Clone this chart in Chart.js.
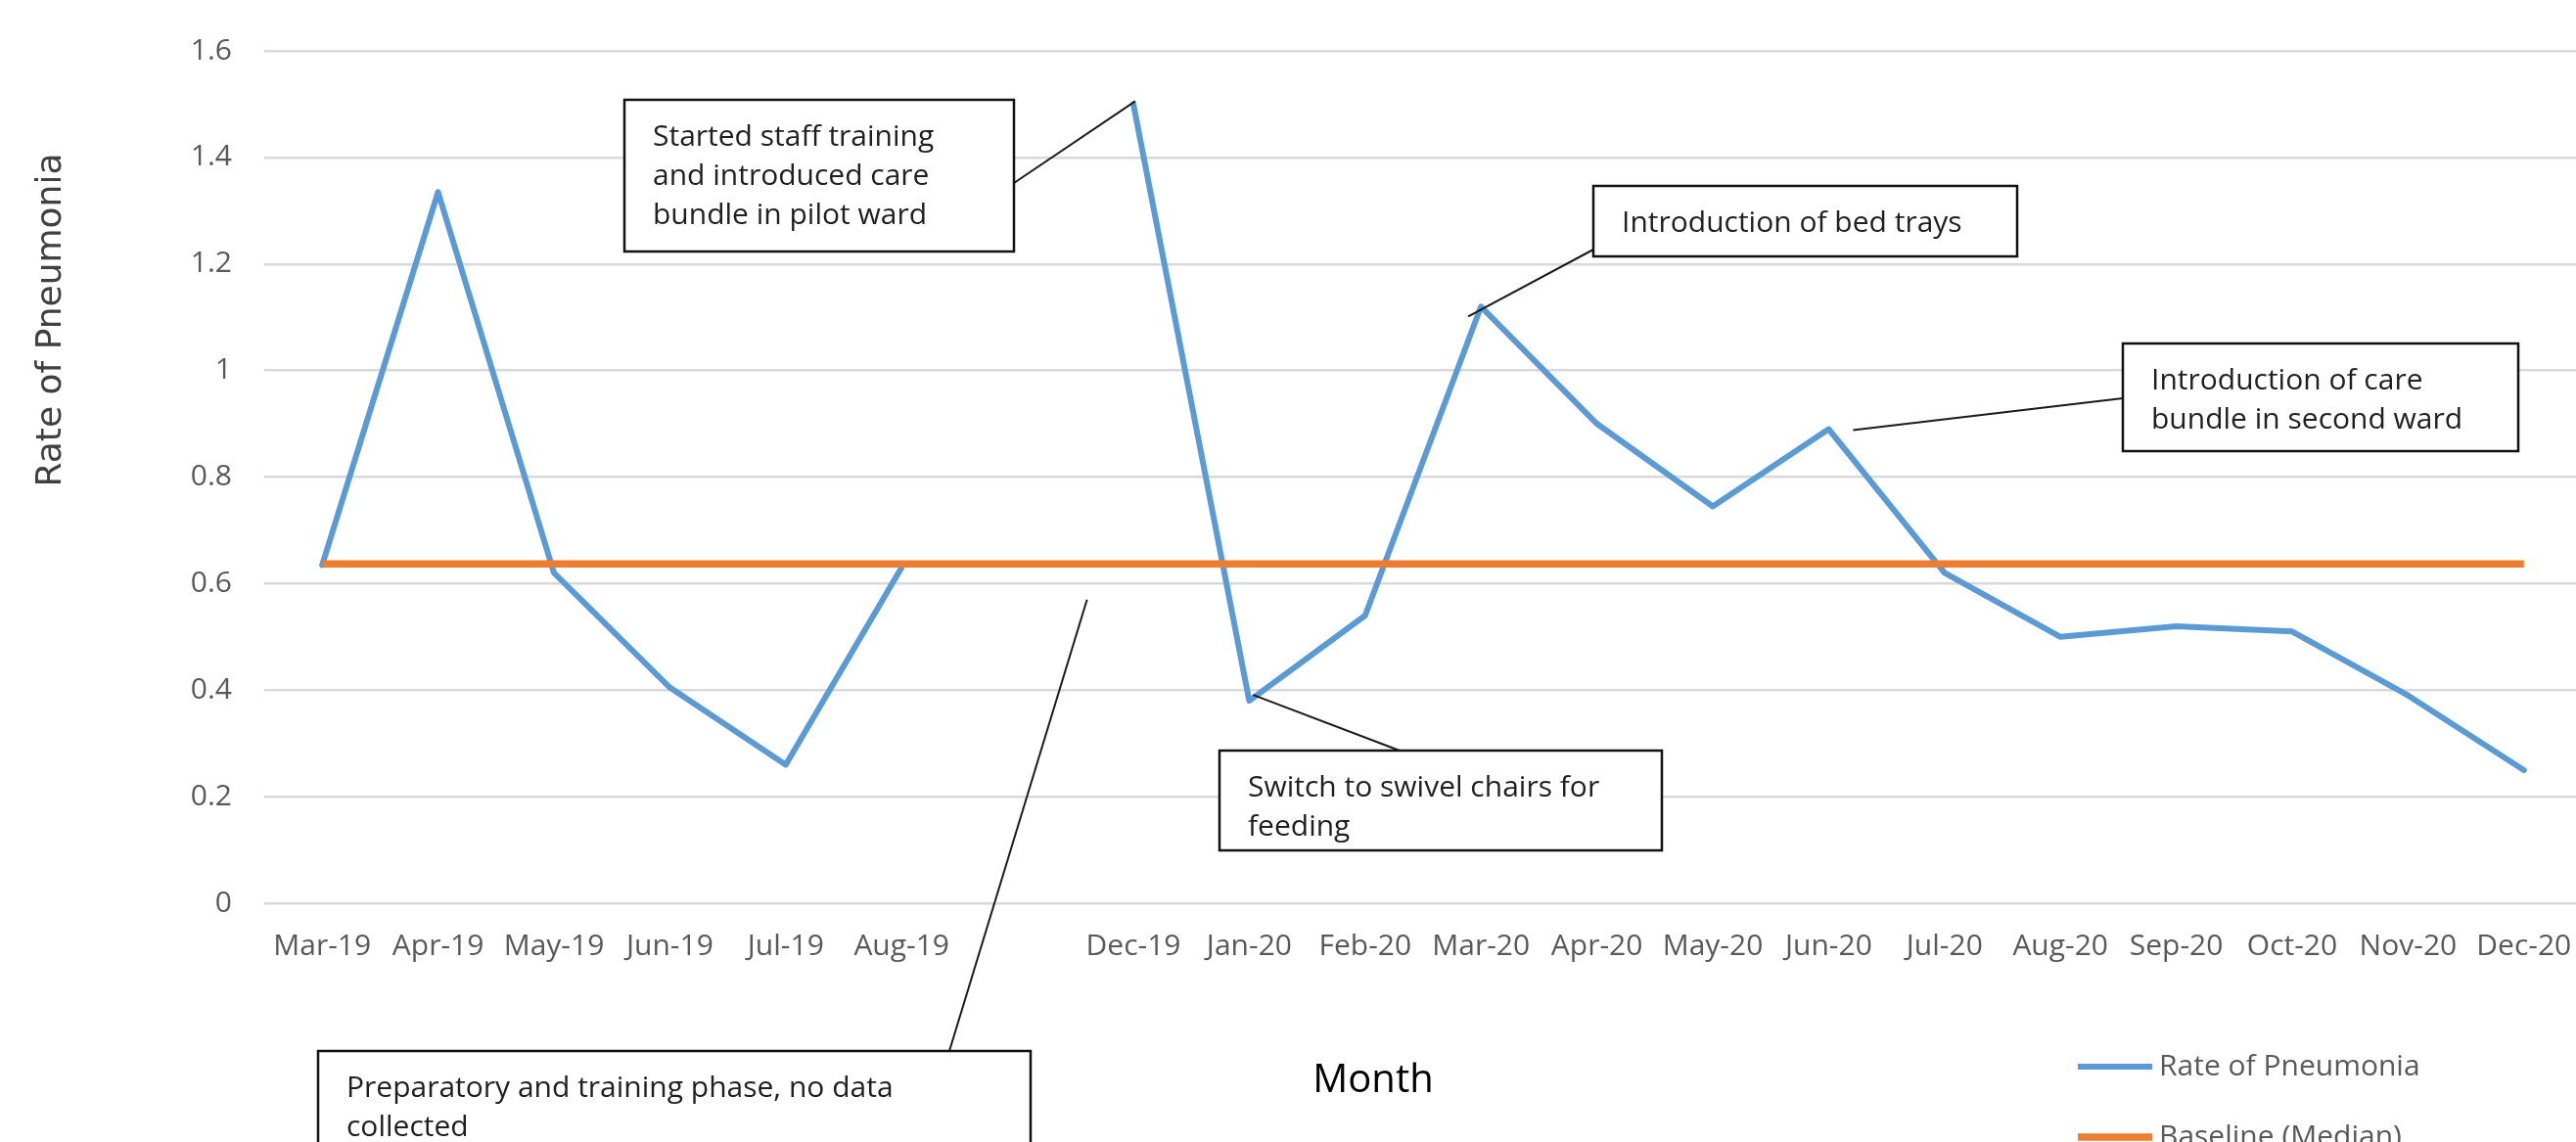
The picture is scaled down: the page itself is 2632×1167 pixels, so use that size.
<!DOCTYPE html>
<html><head><meta charset="utf-8">
<script src="https://cdn.jsdelivr.net/npm/chart.js@4.4.0/dist/chart.umd.min.js"></script>
<style>
html,body{margin:0;padding:0;overflow:hidden;background:#fff;width:2632px;height:1167px}
#wrap{position:absolute;left:0;top:0;width:2700px;height:1250px}
canvas{display:block}
</style></head><body>
<div id="wrap"><canvas id="c" width="2700" height="1250"></canvas></div>
<script>
// ---- data ----
const months = ['Mar-19','Apr-19','May-19','Jun-19','Jul-19','Aug-19','','Dec-19','Jan-20','Feb-20','Mar-20','Apr-20','May-20','Jun-20','Jul-20','Aug-20','Sep-20','Oct-20','Nov-20','Dec-20'];
const pneumoniaRate = [0.635,1.335,0.62,0.405,0.26,0.63,null,1.50,0.38,0.54,1.12,0.90,0.745,0.89,0.62,0.50,0.52,0.51,0.39,0.25];
const baselineMedian = [0.637,0.637,0.637,0.637,0.637,0.637,0.637,0.637,0.637,0.637,0.637,0.637,0.637,0.637,0.637,0.637,0.637,0.637,0.637,0.637];
const seriesNames = ['Rate of Pneumonia','Baseline (Median)'];
const yMin = 0, yMax = 1.6, yStep = 0.2;
const yTitle = 'Rate of Pneumonia';
const xTitle = 'Month';

// ---- annotations (callouts) ----
const notes = [
  {lines:['Started staff training','and introduced care','bundle in pilot ward'], box:[638,102,398,155], from:[1036,187], at:7, dx:2, dy:-3},
  {lines:['Introduction of bed trays'], box:[1628,190,433,72], from:[1628,255], at:10, dx:-13, dy:10},
  {lines:['Introduction of care','bundle in second ward'], box:[2169,351,404,110], from:[2169,407], at:13, dx:25, dy:1},
  {lines:['Switch to swivel chairs for','feeding'], box:[1246,767,452,102], from:[1430,767], at:8, dx:4, dy:-6},
  {lines:['Preparatory and training phase, no data','collected'], box:[325,1074,728,140], from:[970,1074], at:6.6, value:0.57}
];

const FONT = '"Open Sans", "Liberation Sans", sans-serif';

const overlay = {
  id:'overlay',
  afterDraw(chart){
    const ctx = chart.ctx, xs = chart.scales.x, ys = chart.scales.y;
    ctx.save();
    // axis titles
    ctx.fillStyle = '#404040';
    ctx.font = '36px "DejaVu Sans", sans-serif';
    ctx.textAlign = 'center'; ctx.textBaseline = 'alphabetic';
    ctx.save(); ctx.translate(62, 327); ctx.rotate(-Math.PI/2); ctx.fillText(yTitle, 0, 0); ctx.restore();
    ctx.fillStyle = '#000';
    ctx.font = '40px ' + FONT;
    ctx.fillText(xTitle, 1403, 1116);

    // callouts
    notes.forEach(n => {
      const v = n.value !== undefined ? n.value : pneumoniaRate[n.at];
      const px = xs.getPixelForValue(n.at) + (n.dx||0);
      const py = ys.getPixelForValue(v) + (n.dy||0);
      ctx.strokeStyle = '#1a1a1a'; ctx.lineWidth = 2;
      ctx.beginPath(); ctx.moveTo(n.from[0], n.from[1]); ctx.lineTo(px, py); ctx.stroke();
      const [bx,by,bw,bh] = n.box;
      ctx.fillStyle = '#fff'; ctx.fillRect(bx,by,bw,bh);
      ctx.lineWidth = 2.5; ctx.strokeStyle = '#111';
      ctx.strokeRect(bx,by,bw,bh);
      ctx.fillStyle = '#1f1f1f';
      ctx.font = '30px ' + FONT;
      ctx.textAlign = 'left'; ctx.textBaseline = 'middle';
      n.lines.forEach((t,i) => ctx.fillText(t, bx + 29, by + 38 + i*40));
    });

    // legend
    const ly = [1090, 1162];
    chart.data.datasets.forEach((d,i) => {
      ctx.strokeStyle = d.borderColor; ctx.lineWidth = d.borderWidth; ctx.lineCap = 'butt';
      ctx.beginPath(); ctx.moveTo(2123, ly[i]); ctx.lineTo(2199, ly[i]); ctx.stroke();
      ctx.fillStyle = '#595959'; ctx.font = '30px ' + FONT;
      ctx.textAlign = 'left'; ctx.textBaseline = 'middle';
      ctx.fillText(d.label, 2206, ly[i]);
    });
    ctx.restore();
  }
};

new Chart(document.getElementById('c'), {
  type:'line',
  data:{
    labels: months,
    datasets:[
      {label:seriesNames[0], data:pneumoniaRate, borderColor:'#5b9bd5', backgroundColor:'#5b9bd5', borderWidth:6, pointRadius:0, spanGaps:false, tension:0, borderJoinStyle:'round', borderCapStyle:'round', order:1},
      {label:seriesNames[1], data:baselineMedian, borderColor:'#ed7d31', backgroundColor:'#ed7d31', borderWidth:7.5, pointRadius:0, tension:0, borderCapStyle:'butt', order:0}
    ]
  },
  options:{
    responsive:false, animation:false, devicePixelRatio:1,
    layout:{padding:{top:52, left:0, right:62, bottom:0}},
    plugins:{legend:{display:false}, tooltip:{enabled:false}, title:{display:false}},
    scales:{
      x:{
        offset:true,
        grid:{display:false, drawTicks:false},
        border:{display:false},
        ticks:{autoSkip:false, maxRotation:0, minRotation:0, padding:26, color:'#595959', font:{family:FONT, size:30}},
        afterFit(s){ s.height = 327; }
      },
      y:{
        min:yMin, max:yMax,
        grid:{color:'#d9d9d9', lineWidth:2.5, drawTicks:false},
        border:{display:false},
        ticks:{stepSize:yStep, padding:33, color:'#595959', font:{family:FONT, size:30},
          callback:v => String(Math.round(v*10)/10)},
        afterFit(s){ s.width = 270; }
      }
    }
  },
  plugins:[overlay]
});
</script>
</body></html>
